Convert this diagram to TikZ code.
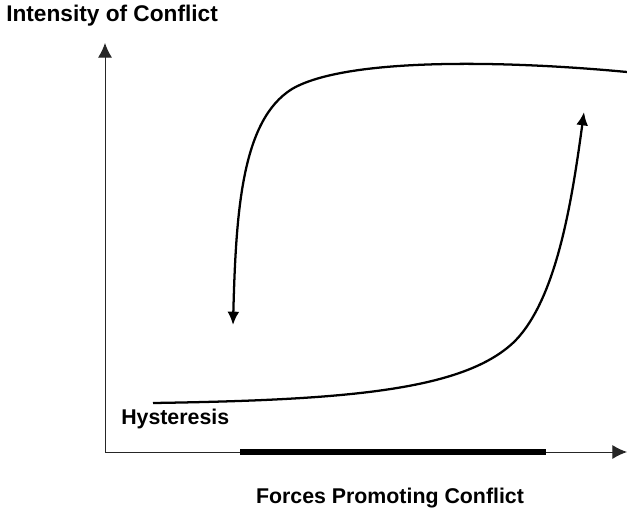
\documentclass[tikz,border=0pt]{standalone}
\usepackage{fontspec}
\setmainfont{Liberation Sans}
\usepackage{tikz}
\usetikzlibrary{arrows.meta}

\tikzset{
  lbl/.style={font=\bfseries\fontsize{16}{19}\selectfont,inner sep=0pt},
  axis/.style={line width=0.7pt,color=black!85,-{Latex[length=11pt,width=10.5pt]}},
  curve/.style={line width=1.7pt,-{Latex[length=10pt,width=9pt]}},
}

\begin{document}
\begin{tikzpicture}[x=0.75pt,y=-0.75pt]
\useasboundingbox (0,0) rectangle (627,516);
% axes
\coordinate (O) at (105,452);
\coordinate (ytop) at (105,43);
\coordinate (xend) at (627,452);
\draw [axis] (O) -- (ytop);
\draw [axis] (O) -- (xend);
% hysteresis range
\coordinate (barl) at (240,452);
\coordinate (barr) at (546,452);
\draw [line width=4.6pt] (barl) -- (barr);
% upper branch
\coordinate (ustart) at (627,72);
\coordinate (ubend) at (292,89);
\coordinate (uend) at (233,325);
\draw [curve] (ustart) .. controls (500,60) and (345,58) .. (ubend)
  .. controls (242,120) and (236,210) .. (uend);
% lower branch
\coordinate (lstart) at (153,403);
\coordinate (lbend) at (515,341);
\coordinate (lend) at (584,112);
\draw [curve] (lstart) .. controls (350,400) and (465,390) .. (lbend)
  .. controls (557,298) and (572,200) .. (lend);
% labels
\node [lbl,anchor=west,font=\bfseries\fontsize{17}{20}\selectfont] (ylab) at (6,16) {Intensity of Conflict};
\node [lbl,anchor=west] (hyst) at (121,419) {Hysteresis};
\node [lbl] (xlab) at (390,498) {Forces Promoting Conflict};
\end{tikzpicture}
\end{document}
